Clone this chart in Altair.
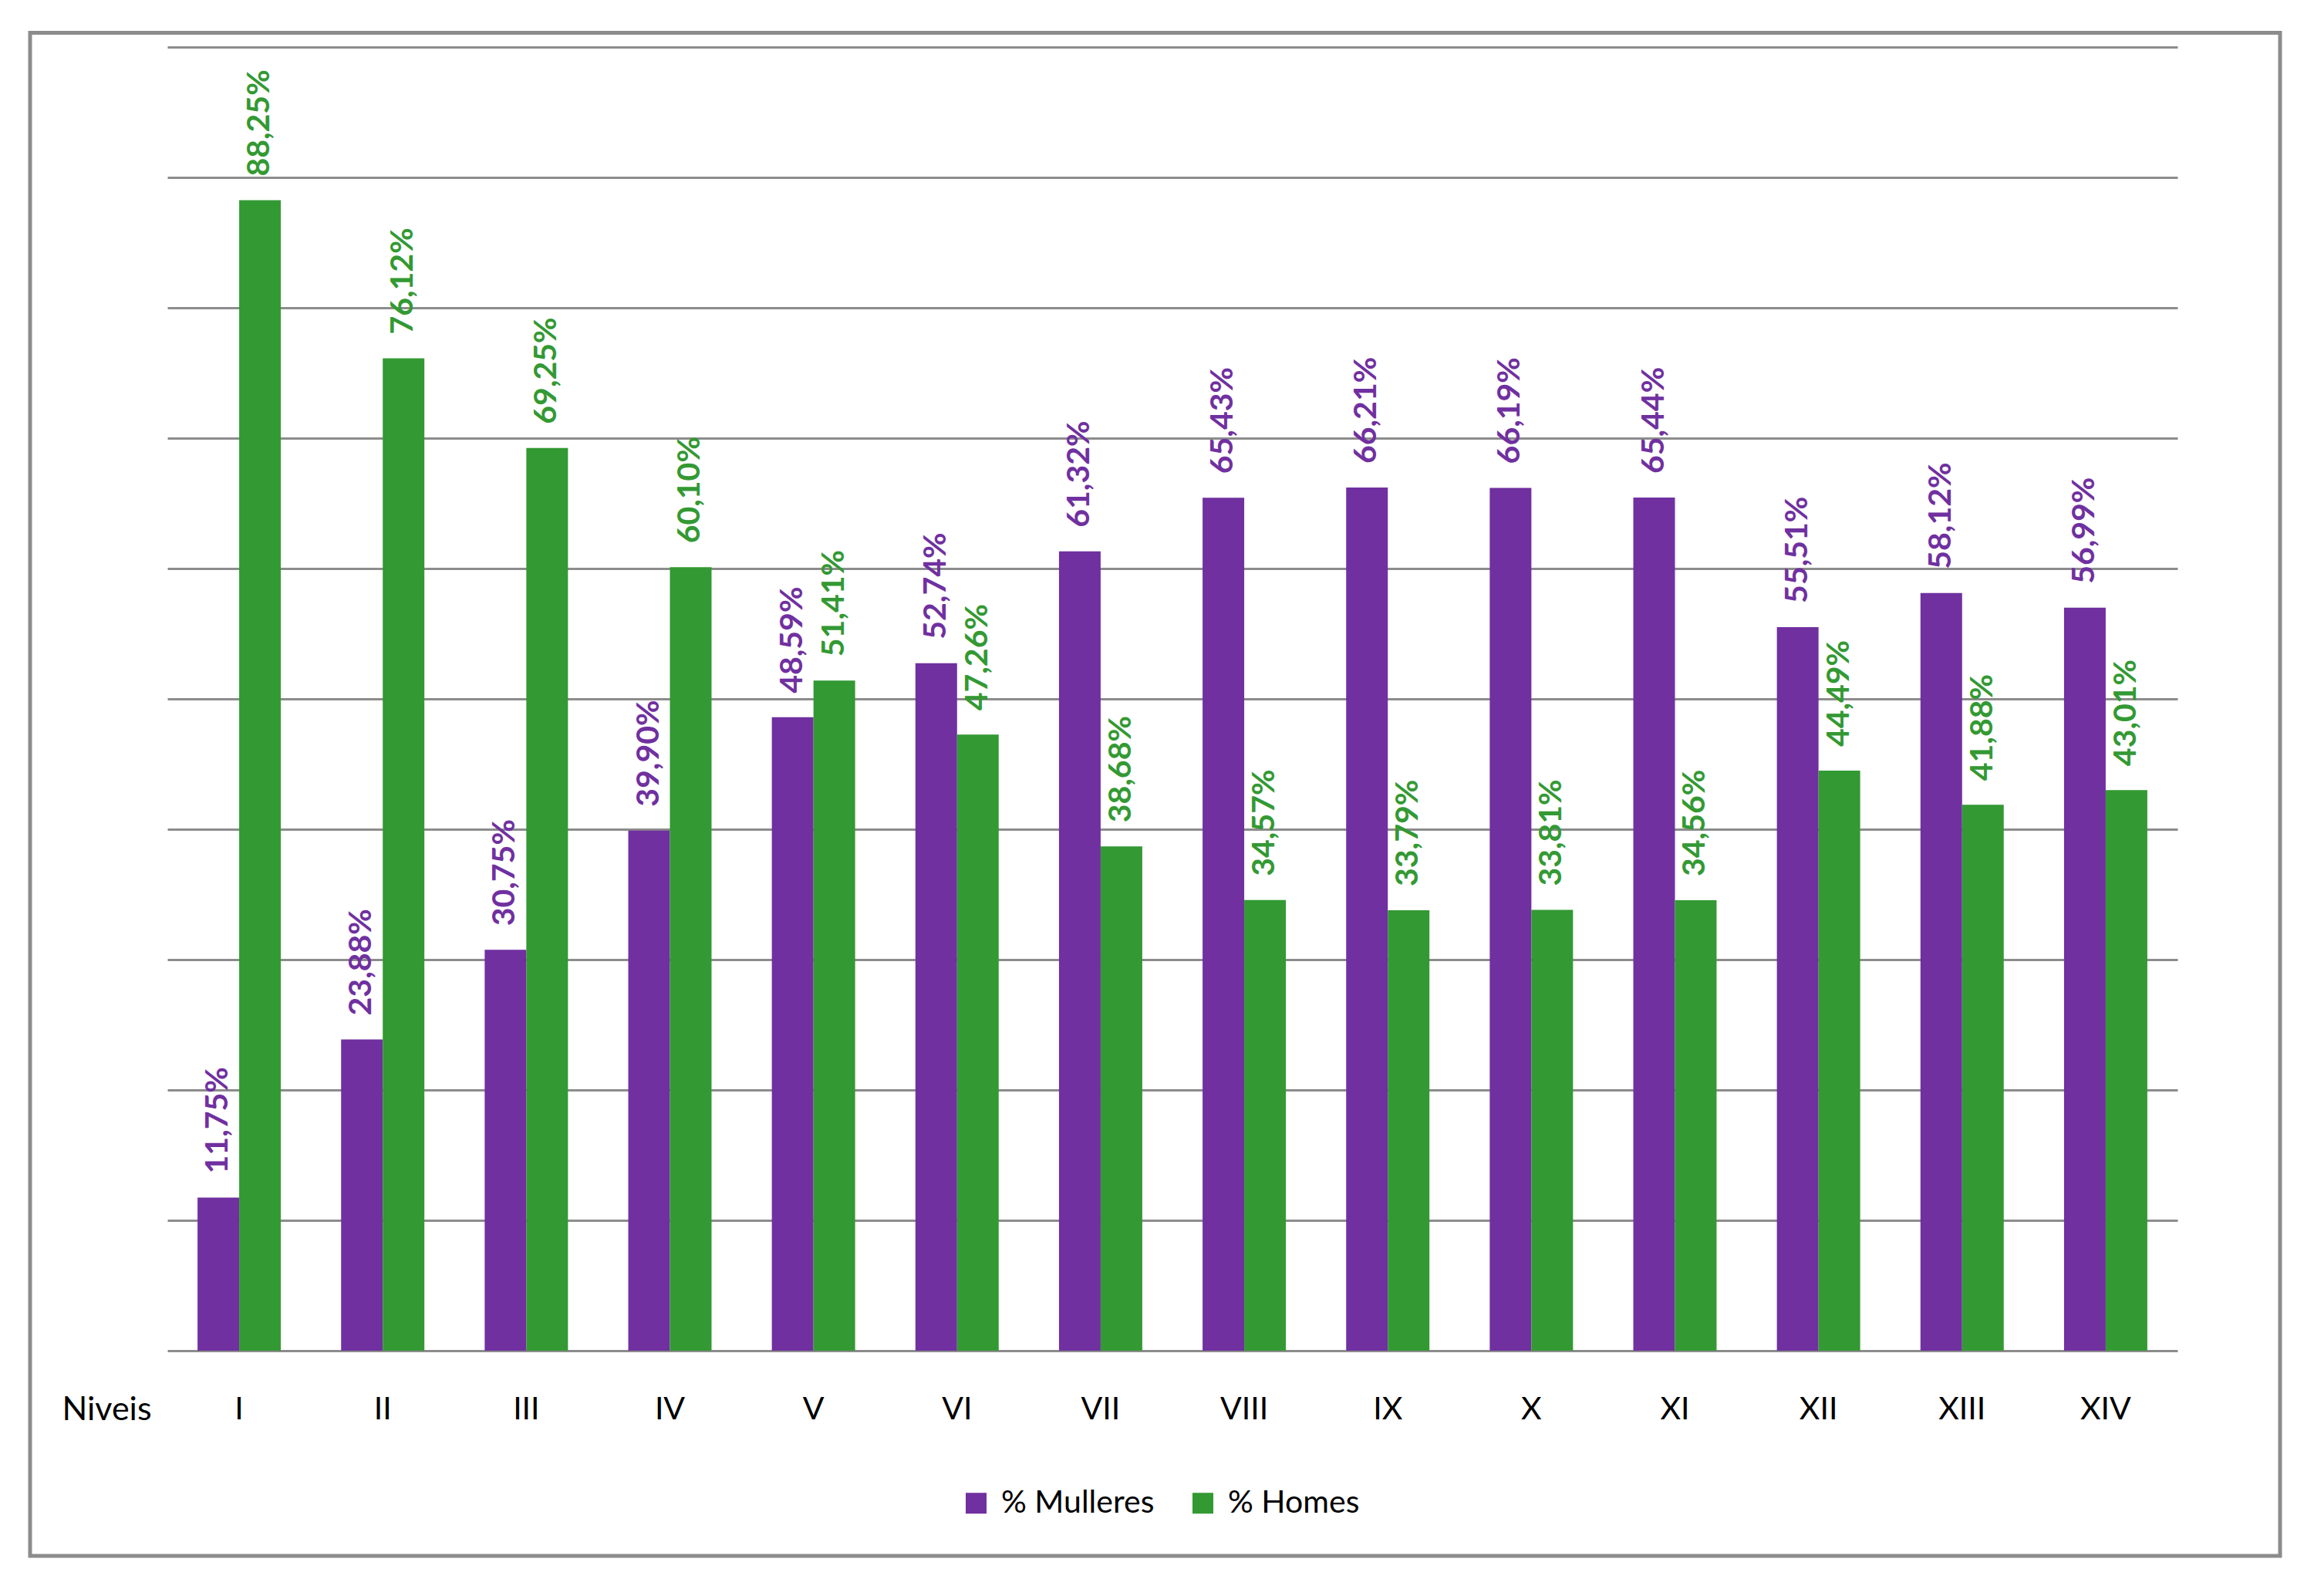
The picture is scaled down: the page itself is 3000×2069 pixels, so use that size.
import altair as alt
import pandas as pd

niveis = ["I", "II", "III", "IV", "V", "VI", "VII", "VIII", "IX", "X", "XI", "XII", "XIII", "XIV"]
mulleres = [11.75, 23.88, 30.75, 39.90, 48.59, 52.74, 61.32, 65.43, 66.21, 66.19, 65.44, 55.51, 58.12, 56.99]
homes = [88.25, 76.12, 69.25, 60.10, 51.41, 47.26, 38.68, 34.57, 33.79, 33.81, 34.56, 44.49, 41.88, 43.01]
series = ["% Mulleres", "% Homes"]
colors = ["#7030A0", "#339933"]

rows = []
for i, n in enumerate(niveis):
    for s, vals in zip(series, [mulleres, homes]):
        v = vals[i]
        rows.append({"nivel": n, "serie": s, "valor": v,
                     "etiqueta": f"{v:.2f}".replace(".", ",") + "%"})
df = pd.DataFrame(rows)

FONT = "Lato"
GRAY = "#8c8c8c"

x_enc = alt.X(
    "nivel:N", sort=niveis,
    scale=alt.Scale(paddingInner=0.42, paddingOuter=0.21),
    axis=alt.Axis(
        title="Niveis", titleX=-137, titleY=76, titleAlign="left", titleBaseline="middle",
        titleAngle=0, titleFontSize=43, titleFontWeight="normal", titleFont=FONT, titleColor="#000",
        labelFontSize=41, labelFont=FONT, labelColor="#000", labelAngle=0,
        labelPadding=76, labelBaseline="middle", ticks=False, tickSize=0, domain=False, grid=False,
    ),
)
xoff_enc = alt.XOffset("serie:N", sort=series, scale=alt.Scale(paddingInner=0, paddingOuter=0))
y_enc = alt.Y(
    "valor:Q", scale=alt.Scale(domain=[0, 100], nice=False),
    axis=alt.Axis(values=list(range(0, 101, 10)), labels=False, ticks=False, domain=False,
                  title=None, grid=True, gridColor=GRAY, gridWidth=3, gridOpacity=1),
)
color_scale = alt.Scale(domain=series, range=colors)

bars = alt.Chart(df).mark_bar().encode(
    x=x_enc, xOffset=xoff_enc, y=y_enc,
    color=alt.Color("serie:N", scale=color_scale, sort=series,
                    legend=alt.Legend(title=None, orient="none", legendX=1028, legendY=1867,
                                      direction="horizontal", symbolType="square", symbolSize=729,
                                      symbolStrokeWidth=0, labelFont=FONT, labelFontSize=41,
                                      labelColor="#000", labelOffset=12, labelLimit=600,
                                      columnPadding=42, padding=0)),
)

labels = alt.Chart(df).mark_text(
    angle=270, align="left", baseline="middle", font=FONT, fontSize=41,
    fontWeight="bold", yOffset=-31,
).encode(
    x=x_enc, xOffset=xoff_enc, y=y_enc, text="etiqueta:N",
    color=alt.Color("serie:N", scale=color_scale, sort=series, legend=None),
)

frame = alt.Chart(pd.DataFrame({"a": [0]})).mark_rect(
    fillOpacity=0, stroke=GRAY, strokeWidth=5
).encode(x=alt.value(-178), x2=alt.value(2739), y=alt.value(-18.5), y2=alt.value(1956))

chart = alt.layer(frame, bars, labels).properties(
    width=2606, height=1690,
    padding={"left": 28, "top": 32, "right": 5, "bottom": 5},
    background="white",
).configure_view(strokeWidth=0)

chart.save("out.html", embed_options={"renderer": "svg", "actions": False})
